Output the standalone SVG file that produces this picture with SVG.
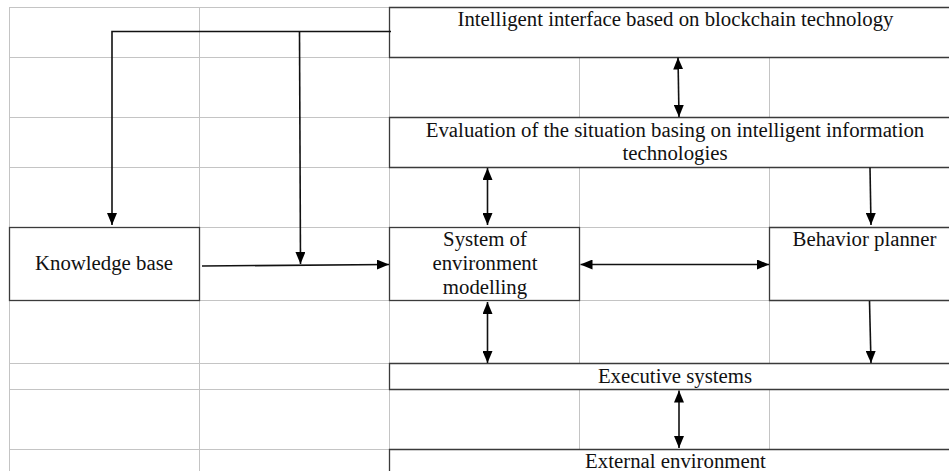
<svg xmlns="http://www.w3.org/2000/svg" width="949" height="471" viewBox="0 0 949 471">
<style>
.grid{stroke:#c4c4c4;stroke-width:1;fill:none}
.box{fill:#fff;stroke:#3a3a3a;stroke-width:1.3}
.t{font-family:"Liberation Serif","Times New Roman",serif;font-size:20.8px;fill:#111;text-anchor:middle}
.c{stroke:#111;stroke-width:1.6;fill:none}
.ar{marker-end:url(#ah)}
.dar{marker-start:url(#as);marker-end:url(#ah)}
</style>
<defs>
<marker id="ah" viewBox="0 0 12 10" refX="12" refY="5" markerWidth="12" markerHeight="10" markerUnits="userSpaceOnUse" orient="auto"><path d="M0,0 L12,5 L0,10 Z" fill="#000"/></marker>
<marker id="as" viewBox="0 0 12 10" refX="0" refY="5" markerWidth="12" markerHeight="10" markerUnits="userSpaceOnUse" orient="auto"><path d="M12,0 L0,5 L12,10 Z" fill="#000"/></marker>
</defs>
<rect width="949" height="471" fill="#fff"/>
<g id="grid" class="grid">
<path d="M9.5,7 V471 M199.5,7 V471 M389.5,7 V471 M579.5,7 V471 M769.5,7 V471"/>
<path d="M9,7.5 H949 M9,57.5 H949 M9,117.5 H949 M9,167.5 H949 M9,227.5 H949 M9,300.5 H949 M9,363.5 H949 M9,389.5 H949 M9,449.5 H949"/>
</g>
<g id="interface"><path class="box" d="M950,7.5 H389.5 V57.5 H950"/><text class="t" x="675.5" y="26">Intelligent interface based on blockchain technology</text></g>
<g id="evaluation"><path class="box" d="M950,117.5 H389.5 V167.5 H950"/><text class="t" x="675" y="137">Evaluation of the situation basing on intelligent information</text><text class="t" x="675" y="160">technologies</text></g>
<g id="knowledge"><rect class="box" x="9.5" y="227.5" width="190" height="73"/><text class="t" x="104" y="270">Knowledge base</text></g>
<g id="modelling"><rect class="box" x="389.5" y="227.5" width="190" height="73"/><text class="t" x="485" y="246">System of</text><text class="t" x="485" y="270">environment</text><text class="t" x="485" y="294">modelling</text></g>
<g id="planner"><path class="box" d="M950,227.5 H769.5 V300.5 H950"/><text class="t" x="864.5" y="246">Behavior planner</text></g>
<g id="executive"><path class="box" d="M950,363.5 H389.5 V389.5 H950"/><text class="t" x="675" y="383">Executive systems</text></g>
<g id="external"><path class="box" d="M950,449.5 H389.5 V472 H950"/><text class="t" x="675.5" y="468">External environment</text></g>
<g id="connectors">
<path class="c ar" d="M391,31.5 H112 V225"/>
<path class="c ar" d="M299.5,31.5 L300.5,264"/>
<path class="c ar" d="M202,266 L389,264.5"/>
<path class="c dar" d="M678,57.5 L679,117"/>
<path class="c dar" d="M487.5,168 V225"/>
<path class="c ar" d="M870,167.5 L871,225"/>
<path class="c dar" d="M580.5,264.5 H769"/>
<path class="c dar" d="M487.5,302 V363"/>
<path class="c ar" d="M869.5,301 L871,363"/>
<path class="c dar" d="M679,390.5 V448"/>
</g>
</svg>
